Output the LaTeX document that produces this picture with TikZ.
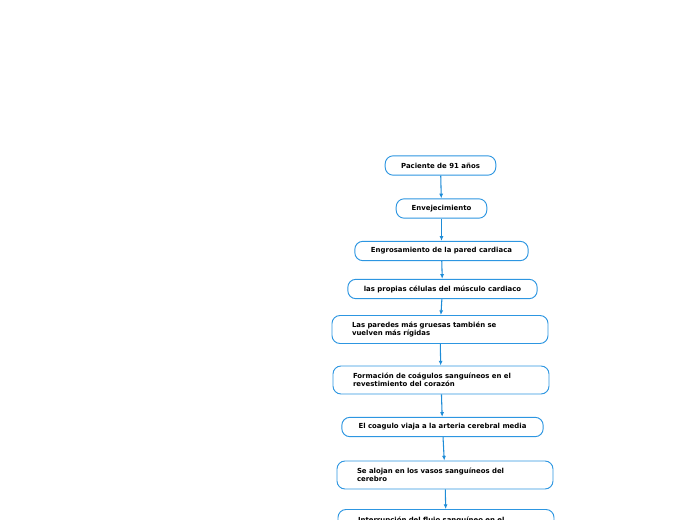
\documentclass[tikz,border=0pt]{standalone}
\usepackage{fontspec}
\setmainfont{DejaVu Sans}
\usepackage{xcolor}
\usetikzlibrary{arrows.meta, positioning}
\definecolor{boxblue}{RGB}{45,150,225}
\definecolor{arrowblue}{RGB}{30,140,215}

\begin{document}
\begin{tikzpicture}[
    x=0.75pt, y=-0.75pt,
    stepbox/.style={rectangle, draw=boxblue, line width=0.7pt, rounded corners=6pt, fill=white, font=\fontsize{5.2}{6.2}\selectfont\bfseries, align=center, minimum height=14.5pt, inner xsep=10pt},
    widebox/.style={stepbox, minimum width=162pt, minimum height=21pt, text width=132pt, align=left},
    arrow/.style={-{Latex[length=3.5pt, width=3pt]}, line width=0.8pt, draw=arrowblue}
]

% Fix the page size
\useasboundingbox (0,0) rectangle (696,520);
\clip (0,0) rectangle (696,520);

% Steps of the chain, top to bottom
\node[stepbox, minimum width=83pt] (pac) at (440.5,165.5) {Paciente de 91 años};
\node[stepbox, minimum width=68pt] (env) at (441.5,208.5) {Envejecimiento};
\node[stepbox, minimum width=130pt] (eng) at (441.5,251) {Engrosamiento de la pared cardiaca};
\node[stepbox, minimum width=142pt] (cel) at (442.5,289) {las propias células del músculo cardiaco};
\node[widebox] (par) at (440,329.5) {Las paredes más gruesas también se\\vuelven más rígidas};
\node[widebox] (coa) at (441,380) {Formación de coágulos sanguíneos en el\\revestimiento del corazón};
\node[stepbox, minimum width=151pt] (via) at (442.5,427) {El coagulo viaja a la arteria cerebral media};
\node[widebox] (alo) at (445,475) {Se alojan en los vasos sanguíneos del\\cerebro};
\node[widebox] (int) at (446,523.5) {Interrupción del flujo sanguíneo en el\\cerebro};

% Connectors
\draw[arrow] (pac) -- (env);
\draw[arrow] (env) -- (eng);
\draw[arrow] (eng) -- (cel);
\draw[arrow] (cel) -- (par);
\draw[arrow] (par) -- (coa);
\draw[arrow] (coa) -- (via);
\draw[arrow] (via) -- (alo);
\draw[arrow] (alo) -- (int);

\end{tikzpicture}
\end{document}
